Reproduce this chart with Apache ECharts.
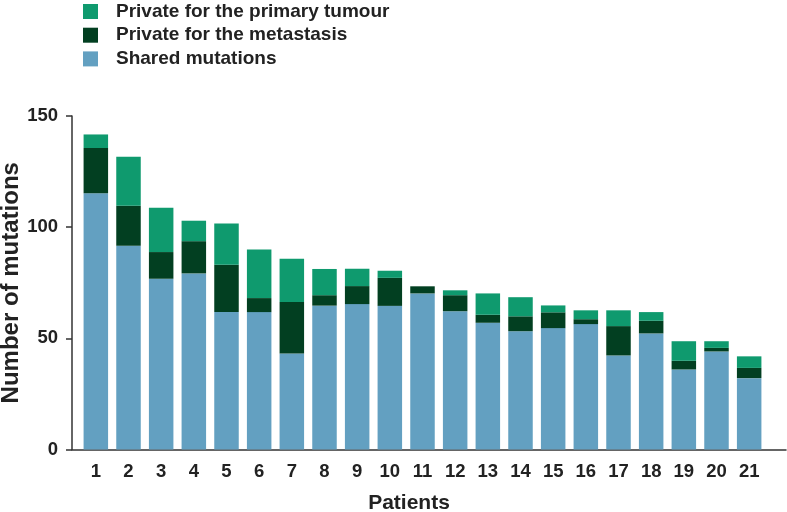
<!DOCTYPE html>
<html><head><meta charset="utf-8">
<script src="https://cdn.jsdelivr.net/npm/echarts@6/dist/echarts.min.js"></script>
<style>html,body{margin:0;padding:0;background:#fff}#c{width:787px;height:512px}</style>
</head><body><div id="c"></div>
<script>
// Patient labels (x categories)
const patients = ['1','2','3','4','5','6','7','8','9','10','11','12','13','14','15','16','17','18','19','20','21'];
// Stacked values, bottom to top
const sharedMutations = [115.2, 91.6, 76.8, 79.2, 61.8, 61.8, 43.2, 64.7, 65.4, 64.6, 70.2, 62.2, 57.0, 53.2, 54.6, 56.4, 42.3, 52.2, 36.0, 44.1, 32.1];
const privateMetastasis = [20.4, 18.0, 12.0, 14.5, 21.3, 6.3, 23.1, 4.7, 8.1, 12.6, 3.2, 7.2, 3.6, 6.7, 7.1, 2.2, 13.2, 5.7, 3.9, 1.6, 4.6];
const privatePrimary = [6.1, 22.1, 19.9, 9.2, 18.6, 21.9, 19.5, 11.8, 7.8, 3.2, 0, 2.2, 9.6, 8.6, 3.1, 4.0, 7.1, 3.9, 8.8, 3.0, 5.2];
// Y axis ticks
const yMin = 0, yMax = 150, yStep = 50;
const seriesNames = ['Private for the primary tumour', 'Private for the metastasis', 'Shared mutations'];

const chart = echarts.init(document.getElementById('c'), null, {renderer: 'canvas'});
const bold = {fontFamily: 'Liberation Sans, Arial, sans-serif', fontWeight: 'bold', color: '#222'};
chart.setOption({
  animation: false,
  backgroundColor: '#fff',
  legend: {
    data: seriesNames,
    orient: 'vertical', left: 83, top: 2, padding: 0,
    itemWidth: 15, itemHeight: 15, itemGap: 4.7,
    icon: 'rect',
    textStyle: Object.assign({}, bold, {fontSize: 19, lineHeight: 19, padding: [0, 0, 0, 13]})
  },
  grid: [
    {left: 79.5, right: 21.5, top: 116, bottom: 62.5, containLabel: false, outerBoundsMode: 'none'},
    {left: 72, right: 1, top: 116, bottom: 62.5, containLabel: false, outerBoundsMode: 'none'}
  ],
  xAxis: [
    {
      type: 'category', gridIndex: 0, data: patients,
      axisLine: {show: false}, axisTick: {show: false},
      axisLabel: Object.assign({}, bold, {fontSize: 18.5, margin: 13, interval: 0}),
      name: 'Patients', nameLocation: 'middle', nameGap: 43, nameMoveOverlap: false,
      nameTextStyle: Object.assign({}, bold, {fontSize: 21, padding: [0, 27, 0, 0]})
    },
    {
      type: 'value', gridIndex: 1, min: 0, max: 1,
      axisLine: {show: true, lineStyle: {color: '#333', width: 1.5}},
      axisTick: {show: false}, axisLabel: {show: false}, splitLine: {show: false}
    }
  ],
  yAxis: [
    {type: 'value', gridIndex: 0, min: yMin, max: yMax, interval: yStep, show: false},
    {
      type: 'value', gridIndex: 1, min: yMin, max: yMax, interval: yStep,
      axisLine: {show: true, lineStyle: {color: '#333', width: 1.5}},
      axisTick: {show: true, length: 6, lineStyle: {color: '#333', width: 1.5}},
      axisLabel: Object.assign({}, bold, {fontSize: 18.5, margin: 14}),
      splitLine: {show: false},
      name: 'Number of mutations', nameLocation: 'middle', nameGap: 48.5, nameMoveOverlap: false,
      nameTextStyle: Object.assign({}, bold, {fontSize: 24})
    }
  ],
  series: [
    {name: seriesNames[2], type: 'bar', stack: 'm', xAxisIndex: 0, yAxisIndex: 0, barWidth: 24.5, itemStyle: {color: '#63a0c1'}, data: sharedMutations},
    {name: seriesNames[1], type: 'bar', stack: 'm', xAxisIndex: 0, yAxisIndex: 0, barWidth: 24.5, itemStyle: {color: '#023f21'}, data: privateMetastasis},
    {name: seriesNames[0], type: 'bar', stack: 'm', xAxisIndex: 0, yAxisIndex: 0, barWidth: 24.5, itemStyle: {color: '#0f9a6e'}, data: privatePrimary}
  ]
});
</script></body></html>
